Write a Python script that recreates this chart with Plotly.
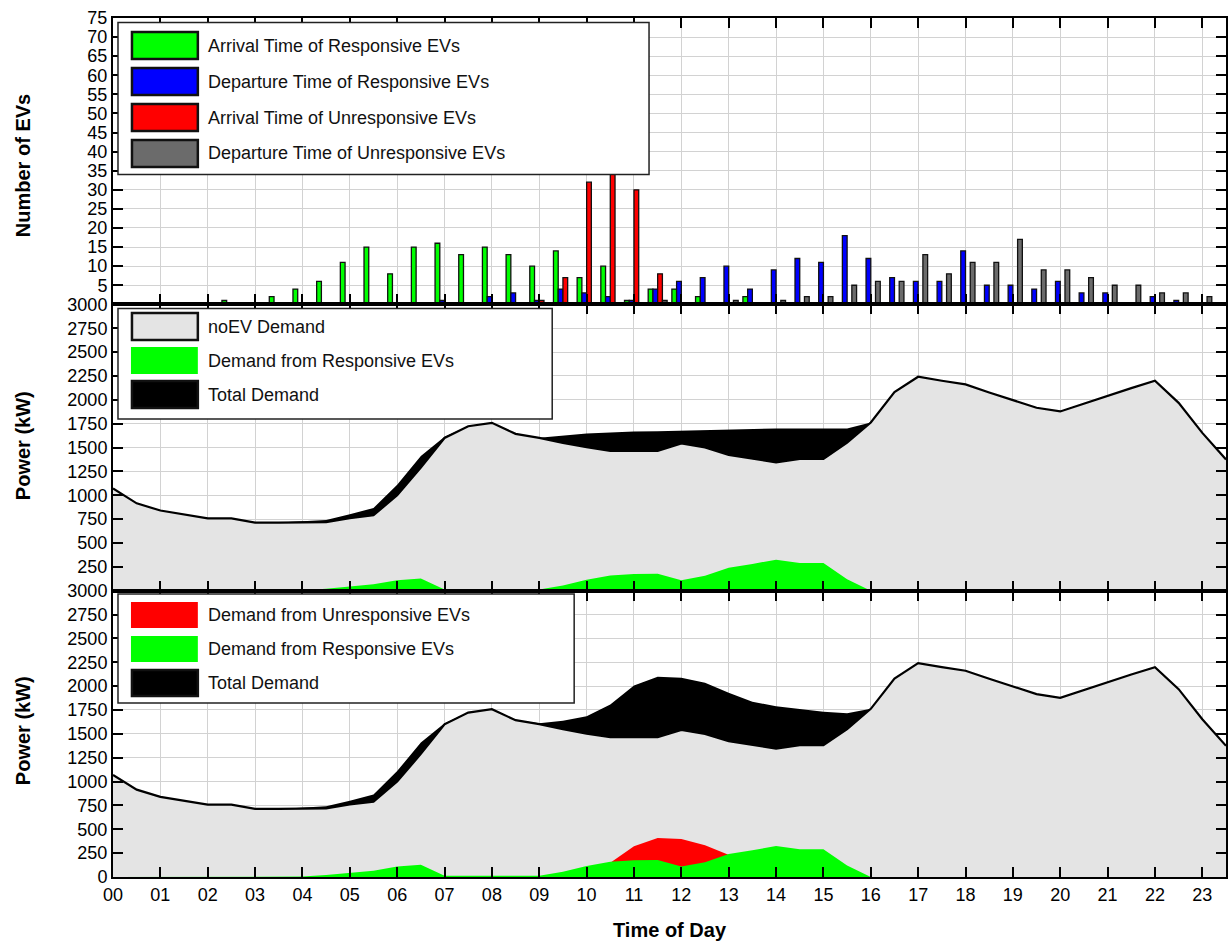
import plotly.graph_objects as go
from plotly.subplots import make_subplots

# ---------------- data ----------------
# EV counts per half-hour slot, 00:00 ... 23:00
bar_slots = [i / 2 for i in range(47)]
arrive_resp = [0, 0, 0, 0, 0, 1, 0, 2, 4, 6, 11, 15, 8, 15, 16, 13, 15, 13, 10, 14,
               7, 10, 1, 4, 4, 2, 0, 2] + [0] * 19
depart_resp = [0] * 14 + [1, 0, 2, 3, 1, 4, 3, 2, 1, 4, 6, 7, 10, 4, 9, 12, 11, 18, 12, 7,
                          6, 6, 14, 5, 5, 4, 6, 3, 3, 0, 2, 1, 0]
arrive_unresp = [0] * 18 + [1, 7, 32, 35, 30, 8] + [0] * 23
depart_unresp = [0] * 23 + [1, 0, 0, 1, 0, 1, 2, 2, 5, 6, 6, 13, 8, 11, 11, 17, 9, 9, 7, 5,
                            5, 3, 3, 2]

# Demand profiles (kW), 00:00 ... 23:30
demand_times = [i / 2 for i in range(48)]
no_ev = [1070, 915, 840, 798, 758, 758, 713, 713, 713, 718,
         760, 790, 1000, 1290, 1600, 1723, 1758, 1643, 1601, 1548,
         1503, 1465, 1465, 1465, 1542, 1500, 1423, 1385, 1345, 1381,
         1381, 1550, 1762, 2080, 2241, 2199, 2161, 2077, 1993, 1916,
         1878, 1962, 2041, 2122, 2199, 1968, 1653, 1374]
resp_demand = [0] * 8 + [5, 20, 40, 66, 110, 128, 12, 12, 12, 12,
                         12, 55, 115, 160, 175, 178, 110, 155, 240, 280,
                         325, 290, 290, 120, 0] + [0] * 15
total_resp_only = [1070, 915, 840, 798, 758, 758, 713, 713,
                   725, 740, 800, 865, 1110, 1410, 1612,
                   1723, 1758, 1643, 1601,
                   1626, 1647, 1657, 1668, 1671, 1678, 1685, 1689, 1696, 1699, 1699, 1699, 1700,
                   1762, 2080, 2241, 2199, 2161, 2077, 1993, 1916, 1878, 1962, 2041, 2122,
                   2199, 1968, 1653, 1374]
unresp_demand = [0] * 19 + [15, 60, 150, 321, 409, 398, 332, 230, 130, 50] + [0] * 19
total_mixed = [1070, 915, 840, 798, 758, 758, 713, 713,
               725, 740, 800, 865, 1110, 1410, 1612,
               1723, 1758, 1643, 1610,
               1636, 1685, 1807, 2007, 2098, 2088, 2035, 1930, 1836, 1790, 1762, 1731, 1716,
               1762, 2080, 2241, 2199, 2161, 2077, 1993, 1916, 1878, 1962, 2041, 2122,
               2199, 1968, 1653, 1374]

hour_ticks = list(range(24))
hour_labels = ["%02d" % h for h in hour_ticks]
ev_ticks = list(range(5, 80, 5))
kw_ticks_mid = list(range(250, 3250, 250))
kw_ticks_bot = list(range(0, 3250, 250))

# ---------------- styling ----------------
GREEN = "#00ff00"
BLUE = "#0000ff"
RED = "#ff0000"
DARKGRAY = "#6b6b6b"
LIGHTGRAY = "#e4e4e4"
FONT = "Liberation Sans, Arial, sans-serif"

W, H = 1228, 941
ML, MR, MT, MB = 113, 0, 18, 64
PW, PH = W - ML - MR, H - MT - MB

fig = make_subplots(rows=3, cols=1, vertical_spacing=0)

bar_line = dict(color="#111111", width=1.3)
for vals, col, name in [(arrive_resp, GREEN, "Arrival Time of Responsive EVs"),
                        (depart_resp, BLUE, "Departure Time of Responsive EVs"),
                        (arrive_unresp, RED, "Arrival Time of Unresponsive EVs"),
                        (depart_unresp, DARKGRAY, "Departure Time of Unresponsive EVs")]:
    fig.add_trace(go.Bar(x=bar_slots, y=vals, name=name,
                         marker=dict(color=col, line=bar_line)), row=1, col=1)


def area(y, fill, row, line_w=0, line_col="black", name=None):
    fig.add_trace(go.Scatter(x=demand_times, y=y, mode="lines", fill="tozeroy",
                             fillcolor=fill, name=name,
                             line=dict(color=line_col if line_w else fill, width=line_w)),
                  row=row, col=1)


# middle panel: responsive EVs only
area(total_resp_only, "black", 2, name="Total Demand")
area(no_ev, LIGHTGRAY, 2, line_w=2.2, name="noEV Demand")
area(resp_demand, GREEN, 2, name="Demand from Responsive EVs")
# bottom panel: responsive and unresponsive EVs
area(total_mixed, "black", 3, name="Total Demand")
area(no_ev, LIGHTGRAY, 3, line_w=2.2, name="noEV Demand")
area(unresp_demand, RED, 3, name="Demand from Unresponsive EVs")
area(resp_demand, GREEN, 3, name="Demand from Responsive EVs")

axis_common = dict(showline=True, linecolor="black", linewidth=2, mirror="ticks",
                   ticks="inside", ticklen=10, tickwidth=1.5, tickcolor="black",
                   showgrid=True, gridcolor="#d2d2d2", gridwidth=1, zeroline=False,
                   tickfont=dict(family=FONT, size=18, color="black"))
for r in (1, 2, 3):
    fig.update_xaxes(range=[0, 23.5], tickvals=hour_ticks, ticktext=hour_labels,
                     showticklabels=(r == 3), row=r, col=1, **axis_common)
fig.update_yaxes(range=[0, 75], tickvals=ev_ticks, row=1, col=1, **axis_common)
fig.update_yaxes(range=[0, 3000], tickvals=kw_ticks_mid, row=2, col=1, **axis_common)
fig.update_yaxes(range=[0, 3000], tickvals=kw_ticks_bot, row=3, col=1, **axis_common)


# ---------------- hand-drawn legend boxes and titles ----------------
def px_x(px):
    return (px - ML) / PW


def px_y(py):
    return (H - MB - py) / PH


shapes, notes = [], []


def rect(x0, y0, x1, y1, fill, line_col=None, line_w=0):
    shapes.append(dict(type="rect", xref="paper", yref="paper", layer="above",
                       x0=px_x(x0), x1=px_x(x1), y0=px_y(y1), y1=px_y(y0),
                       fillcolor=fill,
                       line=dict(color=line_col or fill, width=line_w)))


def text(x, y, s):
    notes.append(dict(xref="paper", yref="paper", x=px_x(x), y=px_y(y), text=s,
                      showarrow=False, xanchor="left", yanchor="middle",
                      font=dict(family=FONT, size=18, color="#111111")))


def legend_box(x0, y0, x1, y1, rows, sw_top, step, sw_h):
    rect(x0, y0, x1, y1, "white", "#222222", 1.5)
    for i, (fill, border, label) in enumerate(rows):
        top = sw_top + i * step
        if border:
            rect(132, top, 198, top + sw_h, fill, "#111111", 2.5)
        else:
            rect(131, top, 198, top + sw_h, fill)
        text(206, top + sw_h / 2, label)


legend_box(118, 22.5, 650, 174.5,
           [(GREEN, True, "Arrival Time of Responsive EVs"),
            (BLUE, True, "Departure Time of Responsive EVs"),
            (RED, True, "Arrival Time of Unresponsive EVs"),
            (DARKGRAY, True, "Departure Time of Unresponsive EVs")],
           32, 36, 27)
legend_box(118, 308.5, 553, 419,
           [(LIGHTGRAY, True, "noEV Demand"),
            (GREEN, False, "Demand from Responsive EVs"),
            (BLACK := "black", True, "Total Demand")],
           313, 34, 27)
legend_box(118, 594, 575, 703,
           [(RED, False, "Demand from Unresponsive EVs"),
            (GREEN, False, "Demand from Responsive EVs"),
            ("black", True, "Total Demand")],
           602, 34, 26)

title_font = dict(family=FONT, size=20, color="black")
for label, cy in [("Number of EVs", 166), ("Power (kW)", 446), ("Power (kW)", 731)]:
    notes.append(dict(xref="paper", yref="paper", x=px_x(23), y=px_y(cy), text="<b>%s</b>" % label,
                      textangle=-90, showarrow=False, xanchor="center", yanchor="middle",
                      font=title_font))
notes.append(dict(xref="paper", yref="paper", x=px_x(671), y=px_y(930), text="<b>Time of Day</b>",
                  showarrow=False, xanchor="center", yanchor="middle", font=title_font))

fig.update_layout(width=W, height=H, margin=dict(l=ML, r=MR, t=MT, b=MB),
                  paper_bgcolor="white", plot_bgcolor="white", showlegend=False,
                  barmode="group", bargap=0.2, bargroupgap=0,
                  shapes=shapes, annotations=notes,
                  font=dict(family=FONT, size=18, color="black"))

fig.write_html("out.html")
